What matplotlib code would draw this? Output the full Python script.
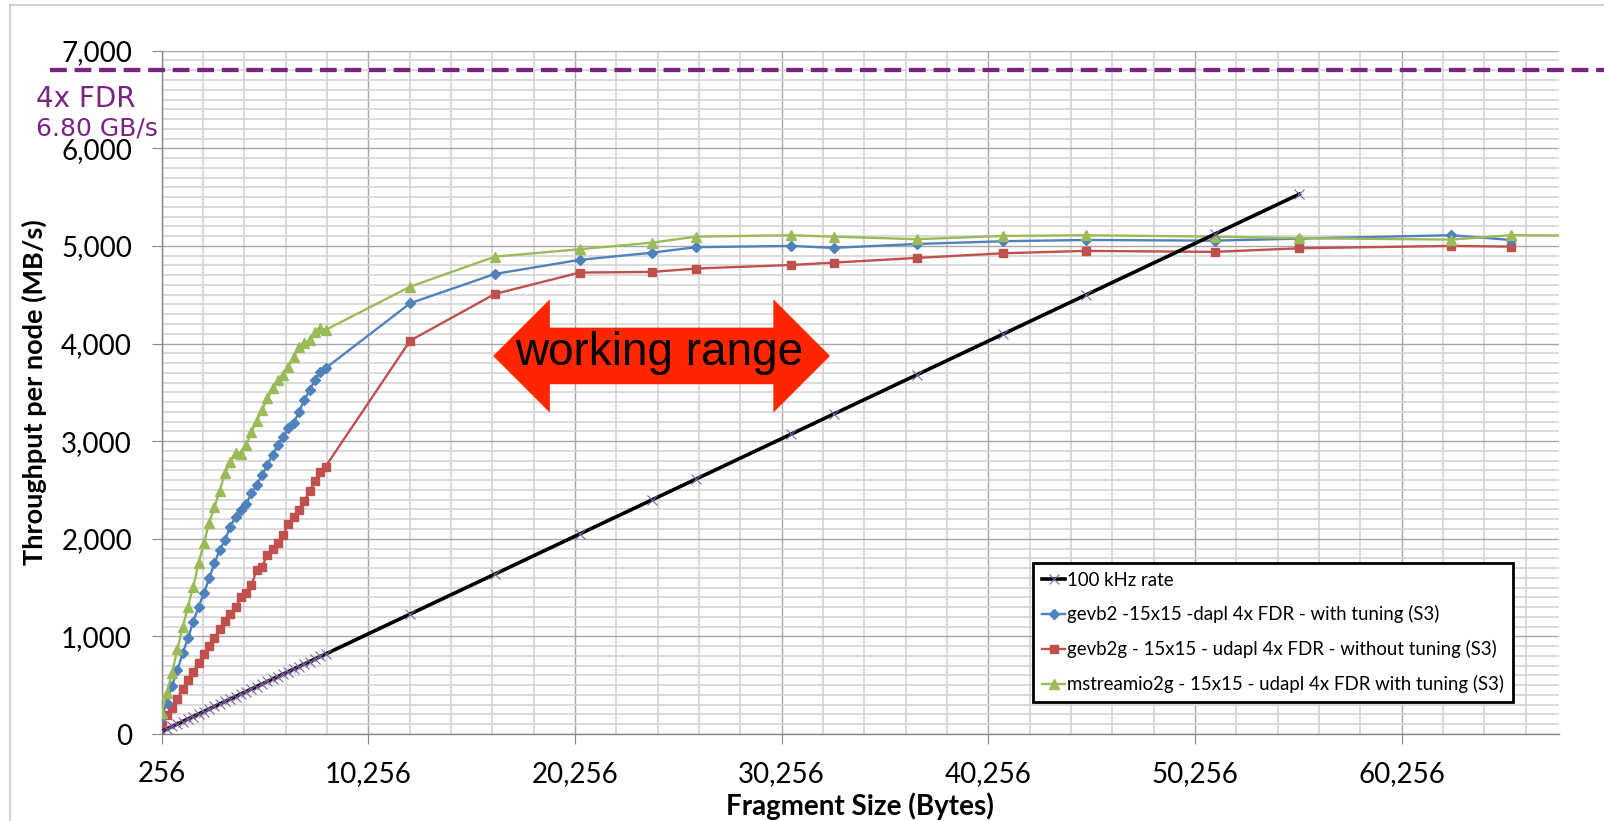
import matplotlib
matplotlib.use('Agg')
import matplotlib.pyplot as plt
from matplotlib.ticker import MultipleLocator, StrMethodFormatter, NullFormatter
from matplotlib.lines import Line2D
from matplotlib.patches import Polygon
import matplotlib.transforms as mtransforms

W, H = 1604, 821
plt.rcParams['font.family'] = ['Lato', 'DejaVu Sans']

# ---------------- data ----------------
frag_dense = [256, 512, 768, 1024, 1280, 1536, 1792, 2048, 2304, 2560, 2816, 3072,
              3328, 3584, 3840, 4096, 4352, 4608, 4864, 5120, 5376, 5632, 5888, 6144,
              6400, 6656, 6912, 7168, 7424, 7680, 7936, 8192]
frag_sparse = [12288, 16384, 20480, 24000, 26100, 30720, 32768, 36800, 40960, 45000,
               51200, 55296, 62650, 65536]
frag_extra = [69632]

rate_dense = [26, 51, 77, 102, 128, 154, 179, 205, 230, 256, 282, 307, 333, 358, 384, 410,
              435, 461, 486, 512, 538, 563, 589, 614, 640, 666, 691, 717, 742, 768, 794, 819]
rate_sparse = [1229, 1638, 2048, 2400, 2610, 3072, 3277, 3680, 4096, 4500, 5120, 5530]

gevb2_dense = [177, 321, 492, 656, 827, 980, 1151, 1304, 1441, 1595, 1749, 1885, 1988, 2124,
               2226, 2290, 2357, 2466, 2551, 2654, 2756, 2859, 2961, 3046, 3132, 3190, 3302,
               3422, 3525, 3627, 3712, 3747]
gevb2_sparse = [4413, 4713, 4857, 4931, 4987, 5000, 4980, 5020, 5048, 5061, 5054, 5075,
                5110, 5061]

gevb2g_dense = [90, 190, 270, 360, 460, 550, 640, 730, 815, 900, 985, 1075, 1160, 1230,
                1300, 1400, 1441, 1527, 1680, 1715, 1834, 1892, 1954, 2039, 2152, 2220,
                2290, 2390, 2490, 2590, 2680, 2740]
gevb2g_sparse = [4030, 4508, 4727, 4734, 4768, 4805, 4829, 4877, 4925, 4949, 4939, 4976,
                 5000, 4993]

mstream_dense = [212, 423, 628, 868, 1093, 1304, 1509, 1749, 1954, 2165, 2323, 2493, 2671,
                 2790, 2882, 2869, 2961, 3097, 3210, 3320, 3440, 3542, 3627, 3678, 3763,
                 3866, 3968, 4002, 4037, 4122, 4156, 4139]
mstream_sparse = [4583, 4890, 4966, 5034, 5095, 5110, 5095, 5069, 5102, 5110, 5095, 5079,
                  5065, 5110]
mstream_extra = [5105]

labels = ['100 kHz rate',
          'gevb2 -15x15 -dapl 4x FDR - with tuning (S3)',
          'gevb2g - 15x15 - udapl 4x FDR - without tuning (S3)',
          'mstreamio2g - 15x15 - udapl 4x FDR with tuning (S3)']

FDR_LIMIT = 6800
FDR_TEXT = '4x FDR'
FDR_SUB = '6.80 GB/s'
ARROW_TEXT = 'working range'
ARROW_X0, ARROW_X1 = 16300, 32600
ARROW_Y = 3873
HEAD_LEN, HEAD_HALF, SHAFT_HALF = 2743, 581, 290
TEXT_X, TEXT_Y = 24310, 3781

XMIN, XMAX = 256, 67880
YMIN, YMAX = 0, 7000

# ---------------- figure ----------------
fig = plt.figure(figsize=(W / 100, H / 100), dpi=100)
ax = fig.add_axes([161.5 / W, (H - 734) / H, (1559.3 - 161.5) / W, (734 - 50.7) / H])

c_blue, c_red, c_green, c_purple = '#4F81BD', '#C0504D', '#9BBB59', '#8064A2'
fdr_col = '#7B2380'

l_blue, = ax.plot(frag_dense + frag_sparse, gevb2_dense + gevb2_sparse, color=c_blue, lw=1.7,
                  marker='D', ms=4.6, mfc=c_blue, mec=c_blue, zorder=4)
l_red, = ax.plot(frag_dense + frag_sparse, gevb2g_dense + gevb2g_sparse, color=c_red, lw=1.7,
                 marker='s', ms=6.2, mfc=c_red, mec=c_red, zorder=3)
l_green, = ax.plot(frag_dense + frag_sparse + frag_extra, mstream_dense + mstream_sparse + mstream_extra,
                   color=c_green, lw=1.7, marker='^', ms=6.5, mfc=c_green, mec=c_green, zorder=5)
l_black, = ax.plot(frag_dense + frag_sparse[:len(rate_sparse)], rate_dense + rate_sparse,
                   color='black', lw=2.6, marker='x', ms=7, mec=c_purple, mew=0.8, zorder=6)

ax.set_xlim(XMIN, XMAX)
ax.set_ylim(YMIN, YMAX)
ax.xaxis.set_major_locator(MultipleLocator(10000, offset=256))
ax.xaxis.set_minor_locator(MultipleLocator(2000, offset=256))
ax.yaxis.set_major_locator(MultipleLocator(1000))
ax.yaxis.set_minor_locator(MultipleLocator(100))
ax.xaxis.set_major_formatter(StrMethodFormatter('{x:,.0f}'))
ax.yaxis.set_major_formatter(StrMethodFormatter('{x:,.0f}'))
ax.xaxis.set_minor_formatter(NullFormatter())
ax.yaxis.set_minor_formatter(NullFormatter())

ax.grid(which='major', color='#a6a6a6', lw=1.0)
ax.grid(which='minor', color='#d4d4d4', lw=1.2)
ax.set_axisbelow(True)
for s in ['top', 'right']:
    ax.spines[s].set_visible(False)
for s in ['left', 'bottom']:
    ax.spines[s].set_color('#868686')
    ax.spines[s].set_linewidth(1.0)
ax.tick_params(which='major', direction='out', length=7.2, width=0.8, color='#868686',
               labelsize=20, labelcolor='black')
ax.tick_params(axis='y', pad=14)
ax.tick_params(axis='x', pad=12)
ax.tick_params(which='minor', length=0)

# axis titles
fig.text(34 / W, 1 - 392 / H, 'Throughput per node (MB/s)', rotation=90, ha='center',
         va='center', fontsize=19.5, fontweight='bold')
fig.text(860 / W, 6 / H, 'Fragment Size (Bytes)', ha='center', va='baseline',
         fontsize=20, fontweight='bold')

# FDR limit line and labels
blend = mtransforms.blended_transform_factory(fig.transFigure, ax.transData)
ax.plot([50 / W, 1.0], [FDR_LIMIT, FDR_LIMIT], transform=blend, clip_on=False,
        color=fdr_col, lw=3.1, linestyle=(0, (3.9, 1.8)), zorder=7)
fig.text(36 / W, 1 - 107.3 / H, FDR_TEXT, color=fdr_col, fontsize=20, va='baseline', ha='left',
         family=['DejaVu Sans'])
fig.text(36 / W, 1 - 135 / H, FDR_SUB, color=fdr_col, fontsize=18, va='baseline', ha='left',
         family=['DejaVu Sans'])

# working range arrow
verts = [
    (ARROW_X0, ARROW_Y),
    (ARROW_X0 + HEAD_LEN, ARROW_Y + HEAD_HALF),
    (ARROW_X0 + HEAD_LEN, ARROW_Y + SHAFT_HALF),
    (ARROW_X1 - HEAD_LEN, ARROW_Y + SHAFT_HALF),
    (ARROW_X1 - HEAD_LEN, ARROW_Y + HEAD_HALF),
    (ARROW_X1, ARROW_Y),
    (ARROW_X1 - HEAD_LEN, ARROW_Y - HEAD_HALF),
    (ARROW_X1 - HEAD_LEN, ARROW_Y - SHAFT_HALF),
    (ARROW_X0 + HEAD_LEN, ARROW_Y - SHAFT_HALF),
    (ARROW_X0 + HEAD_LEN, ARROW_Y - HEAD_HALF),
]
ax.add_patch(Polygon(verts, closed=True, facecolor='#FF2600', edgecolor='none', zorder=8))
ax.text(TEXT_X, TEXT_Y, ARROW_TEXT, ha='center', va='baseline', fontsize=33,
        family=['Liberation Sans', 'DejaVu Sans'], color='black', zorder=9)

# legend
leg = ax.legend([l_black, l_blue, l_red, l_green], labels, loc='upper left',
                bbox_to_anchor=(1033.3 / W, 1 - 562.7 / H), bbox_transform=fig.transFigure,
                borderaxespad=0, frameon=True, fancybox=False, edgecolor='black',
                framealpha=1, fontsize=13.4, handlelength=1.25, handletextpad=0.1,
                borderpad=0.48, labelspacing=0.9, numpoints=1)
leg.get_frame().set_linewidth(2)
leg.set_zorder(10)

# chart-area border (left and top edges visible)
fig.add_artist(Line2D([10 / W, 10 / W], [0, 1 - 5.3 / H], transform=fig.transFigure,
                      color='#c8c8c8', lw=1.2))
fig.add_artist(Line2D([10 / W, 1], [1 - 5.3 / H, 1 - 5.3 / H], transform=fig.transFigure,
                      color='#c8c8c8', lw=1.2))

fig.savefig('out.png', dpi=100)
